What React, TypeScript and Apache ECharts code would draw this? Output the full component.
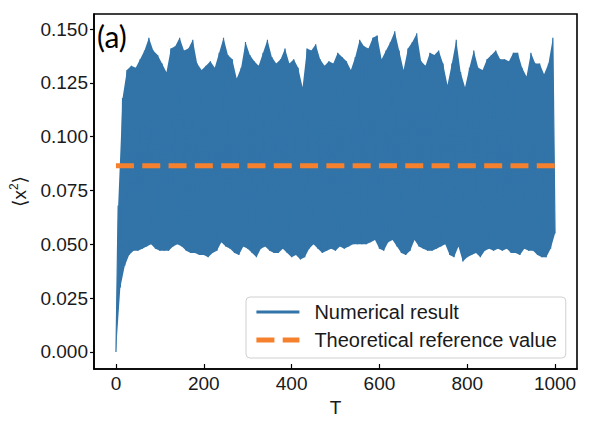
import { useEffect, useRef } from "react";
import * as echarts from "echarts";

// Sample spacing along T: lower envelope at T = 0, 10, ..., 1000,
// upper envelope half a step later (T = 5, 15, ..., 995)
const STEP = 10;

// Lower edge of the oscillation
const lowerEnvelope = [
  0.0, 0.03, 0.04, 0.045, 0.047, 0.047, 0.048, 0.049, 0.05, 0.048,
  0.047, 0.047, 0.047, 0.049, 0.05, 0.049, 0.047, 0.046, 0.046, 0.045,
  0.045, 0.044, 0.046, 0.047, 0.051, 0.049, 0.048, 0.046, 0.045, 0.049,
  0.048, 0.046, 0.044, 0.048, 0.049, 0.047, 0.046, 0.046, 0.048, 0.046,
  0.044, 0.045, 0.043, 0.044, 0.048, 0.05, 0.048, 0.046, 0.047, 0.048,
  0.047, 0.049, 0.048, 0.049, 0.05, 0.05, 0.05, 0.05, 0.051, 0.052,
  0.048, 0.047, 0.051, 0.052, 0.049, 0.046, 0.045, 0.047, 0.052, 0.049,
  0.048, 0.047, 0.047, 0.048, 0.049, 0.05, 0.045, 0.044, 0.049, 0.042,
  0.044, 0.045, 0.046, 0.044, 0.047, 0.048, 0.047, 0.048, 0.047, 0.048,
  0.046, 0.046, 0.045, 0.048, 0.047, 0.047, 0.045, 0.044, 0.044, 0.048,
  0.055,
];

// Upper edge of the oscillation
const upperEnvelope = [
  0.068, 0.118, 0.131, 0.133, 0.132, 0.136, 0.14, 0.146, 0.14, 0.138,
  0.134, 0.13, 0.141, 0.142, 0.146, 0.14, 0.141, 0.145, 0.134, 0.131,
  0.133, 0.135, 0.132, 0.139, 0.146, 0.138, 0.136, 0.127, 0.132, 0.144,
  0.138, 0.135, 0.133, 0.139, 0.145, 0.137, 0.134, 0.136, 0.141, 0.134,
  0.136, 0.132, 0.123, 0.141, 0.14, 0.143, 0.136, 0.133, 0.135, 0.134,
  0.139, 0.137, 0.135, 0.131, 0.137, 0.145, 0.142, 0.141, 0.146, 0.147,
  0.136, 0.14, 0.144, 0.149, 0.14, 0.131, 0.141, 0.144, 0.148, 0.135,
  0.133, 0.139, 0.138, 0.14, 0.134, 0.124, 0.134, 0.145, 0.13, 0.123,
  0.132, 0.14, 0.132, 0.131, 0.136, 0.138, 0.14, 0.136, 0.136, 0.135,
  0.139, 0.139, 0.132, 0.128, 0.139, 0.134, 0.134, 0.129, 0.134, 0.146,
];

const referenceValue = 0.0865;

const xTicks = [0, 200, 400, 600, 800, 1000];
const yTicks = [0, 0.025, 0.05, 0.075, 0.1, 0.125, 0.15];

const seriesNames = ["Numerical result", "Theoretical reference value"];

const FONT = "'Liberation Sans', Arial, sans-serif";
const TEXT = "#1a1a1a";
const BLUE = "#3274a8";
const ORANGE = "#f5812f";
const DASH = [18, 8.3];

// zig-zag between the two envelopes (the raw oscillating trace)
const buildNumerical = () => {
  const pts: number[][] = [];
  lowerEnvelope.forEach((lo, i) => {
    pts.push([i * STEP, lo]);
    if (i < upperEnvelope.length) pts.push([i * STEP + STEP / 2, upperEnvelope[i]]);
  });
  return pts;
};

// closed outline of the band: along the upper edge, back along the lower edge
const buildBandOutline = () => {
  const last = lowerEnvelope.length - 1;
  const top: number[][] = [[0, lowerEnvelope[0]]];
  upperEnvelope.forEach((up, i) => top.push([i * STEP + STEP / 2, up]));
  top.push([last * STEP, lowerEnvelope[last]]);
  const bottom: number[][] = [];
  for (let i = last - 1; i >= 1; i--) bottom.push([i * STEP, lowerEnvelope[i]]);
  return top.concat(bottom);
};

export default function App() {
  const chartRef = useRef<HTMLDivElement>(null);

  useEffect(() => {
    document.body.style.margin = "0";
    if (!chartRef.current) return;
    const chart = echarts.init(chartRef.current, undefined, { renderer: "svg" });

    const numerical = buildNumerical();
    const outline = buildBandOutline();
    const tStart = numerical[0][0];
    const tEnd = numerical[numerical.length - 1][0];

    chart.setOption({
      animation: false,
      grid: {
        left: 88,
        right: 17,
        top: 14,
        bottom: 57,
        show: true,
        borderColor: "#000",
        borderWidth: 1.6,
      },
      xAxis: {
        type: "value",
        min: -50,
        max: 1050,
        name: "T",
        nameLocation: "middle",
        nameGap: 27,
        nameTextStyle: { fontSize: 19, color: TEXT, fontFamily: FONT },
        axisLine: { show: true, onZero: false, lineStyle: { color: "#000", width: 1.6 } },
        axisTick: {
          show: true,
          inside: true,
          length: 5,
          customValues: xTicks,
          lineStyle: { color: "#000", width: 1.2 },
        },
        axisLabel: {
          customValues: xTicks,
          formatter: (v: number) => String(v),
          fontSize: 19,
          color: TEXT,
          fontFamily: FONT,
          margin: 5,
        },
        splitLine: { show: false },
      },
      yAxis: {
        type: "value",
        min: -0.0079,
        max: 0.157,
        name: "{b|⟨}{x|x}{s|2}{b|⟩}",
        nameLocation: "middle",
        nameGap: 64,
        nameRotate: 90,
        nameTextStyle: {
          color: TEXT,
          fontSize: 19,
          fontFamily: FONT,
          rich: {
            b: { fontSize: 19, fontFamily: "'DejaVu Sans'", color: TEXT, lineHeight: 22 },
            x: { fontSize: 19, fontFamily: FONT, color: TEXT, lineHeight: 22 },
            s: { fontSize: 12, fontFamily: FONT, color: TEXT, lineHeight: 22, verticalAlign: "top" },
          },
        },
        axisLine: { show: true, onZero: false, lineStyle: { color: "#000", width: 1.6 } },
        axisTick: {
          show: true,
          inside: false,
          length: 4,
          customValues: yTicks,
          lineStyle: { color: "#000", width: 1.2 },
        },
        axisLabel: {
          customValues: yTicks,
          formatter: (v: number) => v.toFixed(3),
          fontSize: 19,
          color: TEXT,
          fontFamily: FONT,
          margin: 6,
        },
        splitLine: { show: false },
      },
      legend: {
        orient: "vertical",
        left: 246,
        top: 297,
        padding: [5, 9, 8, 8],
        itemGap: 8,
        itemWidth: 43,
        itemHeight: 14,
        selectedMode: false,
        backgroundColor: "#fff",
        borderColor: "#d0d0d0",
        borderWidth: 1,
        borderRadius: 4,
        textStyle: { fontSize: 20, fontFamily: FONT, color: TEXT, padding: [0, 0, 0, 10] },
        data: [
          {
            name: seriesNames[0],
            itemStyle: { opacity: 0 },
            lineStyle: { color: BLUE, width: 3, type: "solid" },
          },
          {
            name: seriesNames[1],
            itemStyle: { opacity: 0 },
            lineStyle: { color: ORANGE, width: 4.8, type: DASH, cap: "butt" },
          },
        ],
      },
      graphic: [
        {
          type: "text",
          left: 97,
          top: 21,
          style: { text: "(a)", fontSize: 30, fontFamily: "Lato", fill: "#000" },
        },
      ],
      series: [
        {
          // filled band traced by the fast oscillation
          type: "custom",
          silent: true,
          clip: true,
          data: [[tStart, 0]],
          renderItem: (_params: any, api: any) => ({
            type: "polygon",
            shape: { points: outline.map((p) => api.coord(p)) },
            style: { fill: BLUE },
          }),
          z: 1,
        },
        {
          name: seriesNames[0],
          type: "line",
          data: numerical,
          symbol: "none",
          silent: true,
          lineStyle: { color: BLUE, width: 1.2 },
          itemStyle: { color: BLUE },
          z: 2,
        },
        {
          name: seriesNames[1],
          type: "line",
          data: [
            [tStart, referenceValue],
            [tEnd, referenceValue],
          ],
          symbol: "none",
          silent: true,
          lineStyle: { color: ORANGE, width: 4.8, type: DASH, cap: "butt" },
          itemStyle: { color: ORANGE },
          z: 3,
        },
      ],
    });

    return () => chart.dispose();
  }, []);

  return <div ref={chartRef} style={{ width: 594, height: 426 }} />;
}
